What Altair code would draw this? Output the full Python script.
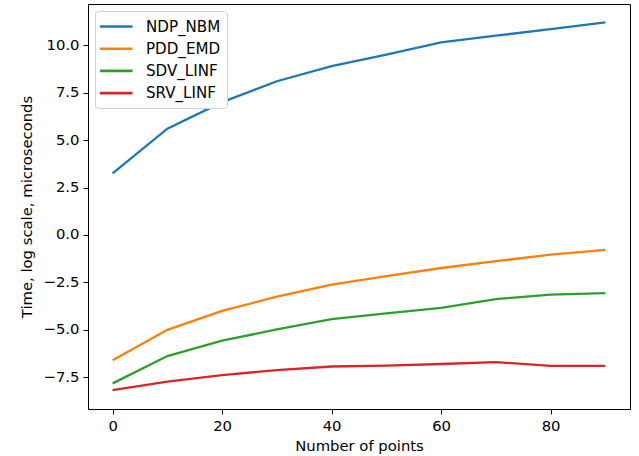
import altair as alt
import pandas as pd

x_vals = [0, 10, 20, 30, 40, 50, 60, 70, 80, 90]
ndp_nbm = [3.25, 5.6, 7.0, 8.1, 8.9, 9.5, 10.15, 10.5, 10.85, 11.2]
pdd_emd = [-6.6, -5.0, -4.0, -3.25, -2.62, -2.17, -1.74, -1.38, -1.04, -0.78]
sdv_linf = [-7.82, -6.38, -5.57, -4.98, -4.43, -4.13, -3.84, -3.38, -3.14, -3.06]
srv_linf = [-8.17, -7.73, -7.38, -7.12, -6.93, -6.88, -6.8, -6.7, -6.9, -6.9]

series_names = ["NDP_NBM", "PDD_EMD", "SDV_LINF", "SRV_LINF"]
series_vals = [ndp_nbm, pdd_emd, sdv_linf, srv_linf]
colors = ["#1f77b4", "#ff7f0e", "#2ca02c", "#d62728"]

x_ticks = [0, 20, 40, 60, 80]
y_ticks = [-7.5, -5.0, -2.5, 0.0, 2.5, 5.0, 7.5, 10.0]

rows = []
for name, vals in zip(series_names, series_vals):
    for xv, yv in zip(x_vals, vals):
        rows.append({"x": xv, "y": yv, "series": name})
df = pd.DataFrame(rows)

FONT = "DejaVu Sans"
FS = 14.8

chart = alt.Chart(df).mark_line(strokeWidth=2.3).encode(
    x=alt.X("x:Q", scale=alt.Scale(domain=[-4.5, 94.5], nice=False, zero=False),
            axis=alt.Axis(values=x_ticks, title="Number of points", format="d",
                          grid=False, tickSize=5, labelPadding=4, titlePadding=6,
                          domain=False)),
    y=alt.Y("y:Q", scale=alt.Scale(domain=[-9.17, 12.17], nice=False, zero=False),
            axis=alt.Axis(values=y_ticks, title="Time, log scale, microseconds", format=".1f",
                          grid=False, tickSize=5, labelPadding=4, titlePadding=9,
                          domain=False)),
    color=alt.Color("series:N", scale=alt.Scale(domain=series_names, range=colors),
                    legend=alt.Legend(title=None, orient="none", legendX=7, legendY=7,
                                      symbolType="M-1.3,0H2.7", symbolSize=266,
                                      symbolStrokeWidth=2.6, labelFontSize=15.1,
                                      labelFont=FONT, labelOffset=26,
                                      rowPadding=4.2, padding=6,
                                      fillColor="white", strokeColor="#d0d0d0",
                                      cornerRadius=3)),
    order=alt.Order("x:Q"),
).properties(
    width=542, height=405,
    autosize=alt.AutoSizeParams(type="none"),
    padding={"left": 88, "top": 4, "right": 9, "bottom": 47},
).configure(
    background="white"
).configure_view(
    stroke="black", strokeWidth=1
).configure_axis(
    labelFont=FONT, titleFont=FONT, labelFontSize=FS, titleFontSize=FS,
    titleFontWeight="normal", labelColor="black", titleColor="black",
    tickColor="black", tickWidth=1
)

chart.save("out.html", embed_options={"renderer": "svg", "actions": False})
